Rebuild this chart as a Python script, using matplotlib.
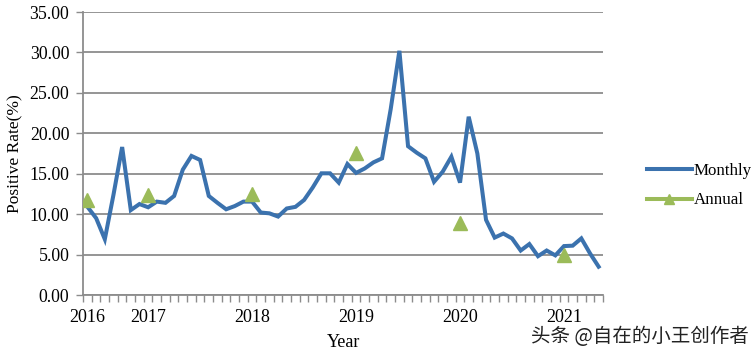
import matplotlib
matplotlib.use("Agg")
import matplotlib.pyplot as plt
from matplotlib.lines import Line2D

# Taxa mensal de positividade (60 pontos, eixo de categorias)
monthly = [10.9, 9.5, 6.9, 12.4, 18.3, 10.5, 11.25, 10.85, 11.55, 11.4,
           12.25, 15.5, 17.2, 16.7, 12.25, 11.4, 10.6, 11.0, 11.55, 11.55,
           10.2, 10.1, 9.7, 10.7, 10.9, 11.75, 13.3, 15.05, 15.05, 13.9,
           16.2, 15.1, 15.65, 16.4, 16.9, 23.0, 30.2, 18.4, 17.6, 16.9,
           14.0, 15.25, 17.1, 13.9, 22.05, 17.5, 9.3, 7.1, 7.6, 7.0,
           5.5, 6.3, 4.8, 5.5, 4.9, 6.05, 6.1, 7.0, 5.15, 3.5]
# Taxa anual e posição de cada ano no eixo
annual_idx = [0, 7, 19, 31, 43, 55]
annual = [11.75, 12.4, 12.5, 17.6, 8.9, 4.95]
year_labels = ['2016', '2017', '2018', '2019', '2020', '2021']
yticks = [0, 5, 10, 15, 20, 25, 30, 35]

plt.rcParams['font.family'] = ['Liberation Serif', 'DejaVu Serif']

fig = plt.figure(figsize=(7.56, 3.53), dpi=100)
ax = fig.add_axes([0.110, 0.1643, 0.6876, 0.8017])

blue = '#3b72ae'
green = '#9bbb59'
grid_c = '#8c8c8c'

ax.plot(range(len(monthly)), monthly, color=blue, lw=2.9, solid_joinstyle='miter', zorder=3)
ax.plot(annual_idx, annual, ls='none', marker='^', ms=10, color=green, zorder=4)

ax.set_xlim(-0.5, len(monthly) - 0.5)
ax.set_ylim(0, 35)
ax.set_yticks(yticks)
ax.set_yticklabels(['%.2f' % v for v in yticks], fontsize=12.8)
ax.yaxis.grid(True, color=grid_c, lw=1.3)
ax.set_axisbelow(True)

ax.set_xticks(annual_idx)
ax.set_xticklabels(year_labels, fontsize=13)
ax.tick_params(axis='x', length=0, pad=10)
ax.set_xticks([i - 0.5 for i in range(len(monthly) + 1)], minor=True)
ax.tick_params(axis='x', which='minor', length=5, color=grid_c, width=1)
ax.tick_params(axis='y', length=5, color=grid_c, width=1, pad=5)

for s in ['top', 'right']:
    ax.spines[s].set_visible(False)
for s in ['left', 'bottom']:
    ax.spines[s].set_color(grid_c)
    ax.spines[s].set_linewidth(1.3)

ax.set_ylabel('Positive Rate(%)', fontsize=12.5, labelpad=4)
ax.set_xlabel('Year', fontsize=13, labelpad=6)

handles = [Line2D([], [], color=blue, lw=2.9),
           Line2D([], [], color=green, lw=2.9, marker='^', ms=7)]
fig.legend(handles, ['Monthly', 'Annual'], loc='center left',
           bbox_to_anchor=(0.835, 0.474), frameon=False, fontsize=12.2,
           handlelength=2.7, handletextpad=0.1, labelspacing=0.8)

fig.text(0.99, 0.048, '头条 @自在的小王创作者', ha='right', va='center',
         fontsize=14, color='#222222',
         family=['Noto Sans CJK SC', 'DejaVu Sans'])

fig.savefig('out.png', dpi=100)
